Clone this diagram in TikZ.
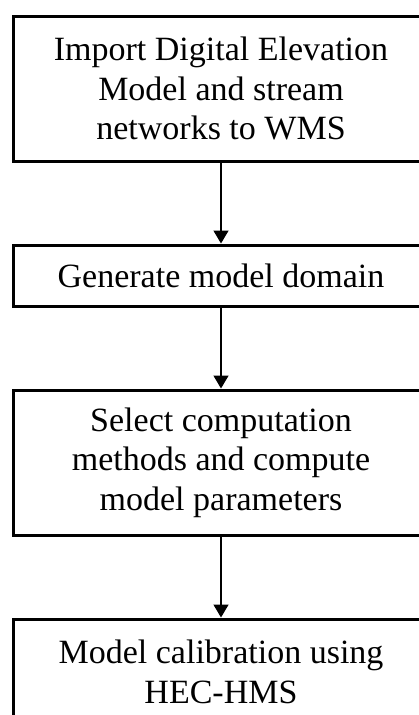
\documentclass[tikz,border=0pt]{standalone}
\usepackage{fontspec}
\setmainfont{Liberation Serif}
\usetikzlibrary{arrows.meta}
\tikzset{every picture/.style={line width=0.75pt}}
\tikzset{stepbox/.style={draw, line width=3pt, minimum width=415pt, align=center, inner sep=0pt, font=\fontsize{34}{39.5}\selectfont}}
\tikzset{flowarrow/.style={line width=1.5pt, -{Triangle[length=13pt,width=15pt]}}}

\begin{document}
\begin{tikzpicture}[x=1pt,y=1pt,yscale=-1]
%set diagram size 419 x 715, right side and bottom cut off
\useasboundingbox (0,0) rectangle (419,715);
\clip (0,0) rectangle (419,715);

%Shape: Rectangle [id:dem]
\node [stepbox, minimum height=145pt] (dem) at (221,88.5) {Import Digital Elevation\\Model and stream\\networks to WMS};
%Shape: Rectangle [id:domain]
\node [stepbox, minimum height=61pt] (domain) at (221,275.5) {Generate model domain};
%Shape: Rectangle [id:params]
\node [stepbox, minimum height=145pt] (params) at (221,462.5) {Select computation\\methods and compute\\model parameters};
%Shape: Rectangle [id:calib]
\node [stepbox, minimum height=106pt] (calib) at (221,672) {Model calibration using\\HEC-HMS};

%Straight Lines
\draw [flowarrow] (dem) -- (domain);
\draw [flowarrow] (domain) -- (params);
\draw [flowarrow] (params) -- (calib);
\end{tikzpicture}
\end{document}
